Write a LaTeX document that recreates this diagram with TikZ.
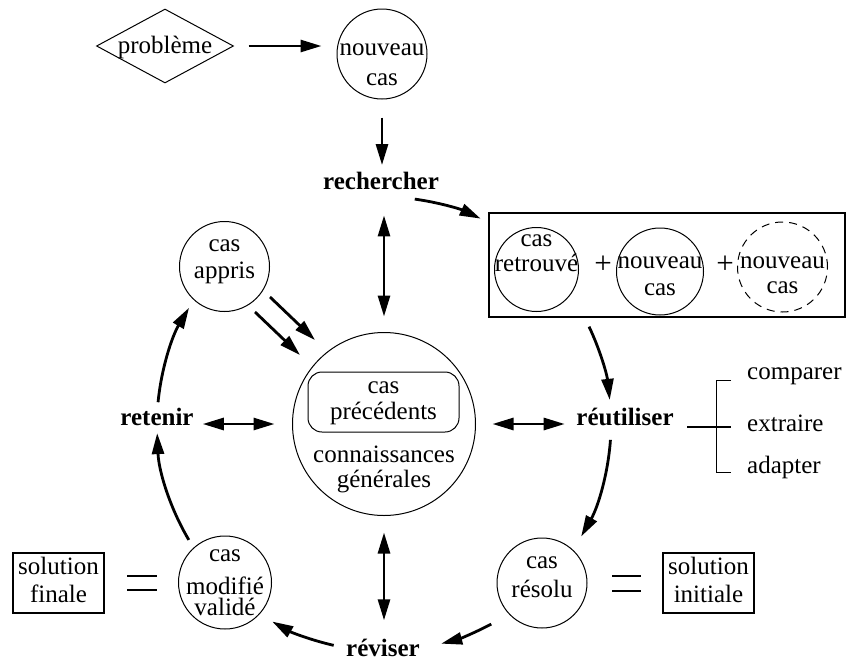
\documentclass[tikz,border=0pt]{standalone}
\usepackage{fontspec}
\setmainfont{Liberation Serif}
\usetikzlibrary{arrows.meta,shapes.geometric,calc}
\begin{document}
\begin{tikzpicture}[x=1pt,y=-1pt,
  txt/.style={font=\fontsize{25}{#1}\selectfont, align=center, inner sep=0pt},
  txt/.default=25,
  btxt/.style={font=\fontsize{25}{25}\selectfont\bfseries, inner sep=0pt},
  circ/.style={draw, circle, line width=1pt, inner sep=0pt, minimum size=#1},
  tip/.tip={Triangle[length=21pt,width=12pt]},
  arr/.style={line width=2.8pt, -tip},
  darr/.style={line width=2.8pt, tip-tip},
  thinline/.style={line width=1.2pt}
]
\fill[white] (0,0) rectangle (847,662);
\useasboundingbox (0,0) rectangle (847,662);

% top
\node[draw, diamond, line width=1pt, minimum width=137pt, minimum height=74pt, inner sep=0pt] (prob) at (165,46) {};
\node[txt] (probt) at (165,48.5) {\strut problème};
\node[circ=90pt] (nc1) at (382,54) {};
\node[txt=30] (nc1t) at (382,64.5) {\strut nouveau\\\strut cas};
\node[btxt] (rech) at (381,184.75) {\strut rechercher};

% retrieved box
\node[draw, thinline, minimum width=356pt, minimum height=104pt, inner sep=0pt] (box) at (667,265) {};
\node[circ=84pt] (c1) at (536.5,269.5) {};
\node[txt=22] (c1t) at (536.5,254.5) {\strut cas\\\strut retrouvé};
\node[font=\fontsize{31}{31}\selectfont, inner sep=0pt] (p1) at (603,265) {+};
\node[circ=87pt] (c2) at (660,271.5) {};
\node[txt=27] (c2t) at (660,277) {\strut nouveau\\\strut cas};
\node[font=\fontsize{31}{31}\selectfont, inner sep=0pt] (p2) at (725,265) {+};
\node[circ=90pt, dash pattern=on 8pt off 6pt] (c3) at (782.5,267) {};
\node[txt=25] (c3t) at (782.5,276) {\strut nouveau\\\strut cas};

% centre
\node[circ=183pt] (cent) at (384,424) {};
\node[draw, rounded corners=14pt, line width=1pt, minimum width=151pt, minimum height=60pt, inner sep=0pt] (prec) at (383.5,402) {};
\node[txt=24] (prect) at (383.5,401.5) {\strut cas\\\strut précédents};
\node[txt=25] (conn) at (384,470) {\strut connaissances\\\strut générales};

% learned case
\node[circ=90pt] (appr) at (224.5,266.5) {};
\node[txt=27] (apprt) at (224.5,260) {\strut cas\\\strut appris};

% step labels
\node[btxt] (ret) at (157,420) {\strut retenir};
\node[btxt] (reut) at (625,420) {\strut réutiliser};
\node[btxt] (rev) at (383,651) {\strut réviser};

% bottom
\node[circ=93pt] (modif) at (225,582.5) {};
\node[txt=25] (modift) at (225,583.5) {\strut cas\\[6pt]\strut modifié\\[-4pt]\strut validé};
\node[draw, thinline, txt=28, minimum width=91pt, minimum height=60pt] (solf) at (58.5,583) {\strut solution\\\strut finale};
\node[circ=90pt] (reso) at (542,583) {};
\node[txt=29] (resot) at (542,577) {\strut cas\\\strut résolu};
\node[draw, thinline, txt=28, minimum width=91pt, minimum height=60pt] (soli) at (708.5,583) {\strut solution\\\strut initiale};

% reuse sub-steps
\node[txt, anchor=west] (comp) at (747,374) {\strut comparer};
\node[txt, anchor=west] (extr) at (747,426) {\strut extraire};
\node[txt, anchor=west] (adap) at (747,468) {\strut adapter};
\draw[line width=1pt] (731,380) -- (716,380) -- (716,472) -- (731,472);
\draw[line width=1.6pt] (687,427) -- (731,427);

% equals signs
\draw[thinline] (127,576) -- (157,576) (127,590) -- (157,590);
\draw[thinline] (612,576) -- (641,576) (612,591) -- (641,591);

% straight connectors
\draw[arr, shorten <=14.5pt, shorten >=15pt] (prob.east) -- (prob.east -| nc1.west);
\draw[arr, shorten <=18pt, shorten >=7pt] (nc1.south) -- (nc1.south |- rech.north);
\draw[darr, shorten <=15.5pt, shorten >=18pt] (cent.north) -- (cent.north |- rech.south);
\draw[darr, shorten <=16.5pt, shorten >=18pt] (cent.south) -- (cent.south |- rev.north);
\draw[darr, shorten <=17.5pt, shorten >=9pt] (cent.west) -- (cent.west -| ret.east);
\draw[darr, shorten <=16.5pt, shorten >=11.5pt] (cent.east) -- (cent.east -| reut.west);
\draw[arr] ($(appr)+(45.5,30.5)$) -- ++(45,43);
\draw[arr] ($(appr)+(30.5,45.5)$) -- ++(45,43);

% cycle arcs
\coordinate (ring) at (384,424);
\draw[arr] (ring) ++(-82.2:227) arc[start angle=-82.2, end angle=-64.8, radius=227];
\draw[arr] (ring) ++(-25.4:227) arc[start angle=-25.4, end angle=-6.1, radius=227];
\draw[arr] (ring) ++(4.0:227) arc[start angle=4.0, end angle=29.7, radius=227];
\draw[arr] (ring) ++(61.8:227) arc[start angle=61.8, end angle=75.4, radius=227];
\draw[arr] (ring) ++(102.8:227) arc[start angle=102.8, end angle=119.5, radius=227];
\draw[arr] (ring) ++(149.3:227) arc[start angle=149.3, end angle=177.7, radius=227];
\draw[arr] (ring) ++(185.5:227) arc[start angle=185.5, end angle=210.8, radius=227];
\end{tikzpicture}
\end{document}
